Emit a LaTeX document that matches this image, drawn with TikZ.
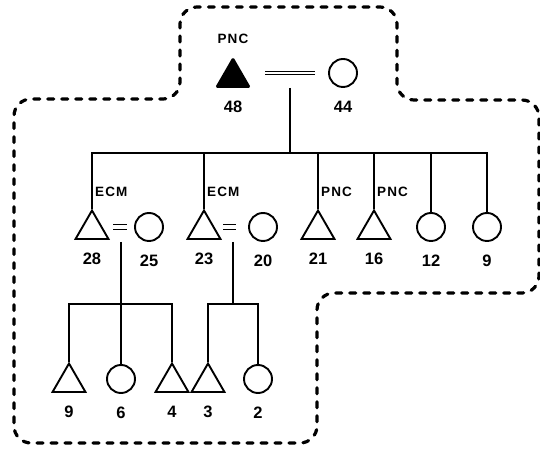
\documentclass[tikz,border=0pt]{standalone}
\usepackage{fontspec}
\setmainfont{Liberation Sans}
\usetikzlibrary{positioning,calc,shapes.geometric}
\tikzset{
	male/.style={regular polygon,regular polygon sides=3,draw=black,line width=1.9pt,
		minimum size=38pt,inner sep=0pt},
	female/.style={circle,draw=black,line width=1.9pt,minimum size=28pt,inner sep=0pt},
	kin/.style={draw=black,line width=1.3pt},
	tie/.style={draw=black,line width=1.3pt,double distance=#1},
	tag/.style={font=\bfseries\fontsize{13.5}{15}\selectfont\addfontfeature{LetterSpace=8},inner sep=0pt},
	num/.style={font=\bfseries\fontsize{16.5}{18}\selectfont,inner sep=0pt,yshift=-13pt},
	border/.style={draw=black,line width=3.2pt,line cap=round,dash pattern=on 6pt off 8pt,
		rounded corners=17pt},
}
\begin{document}
\begin{tikzpicture}[x=1pt,y=1pt]
	\useasboundingbox (0,0) rectangle (540,449);
	% the dashed outline
	\draw[border] (290,442) -- (397,442) -- (397,349) -- (539,349) -- (539,156) -- (317,156)
		-- (317,6) -- (14,6) -- (14,350) -- (180,350) -- (180,442) -- cycle;
	% ego and wife
	\node[male,fill=black,rounded corners=1pt,label={[num]below:48},
		label={[tag,yshift=13pt]above:PNC}] (t48) at (233,371.5) {};
	\node[female,label={[num]below:44}] (c44) at (343,376) {};
	\draw[tie=1.8pt,shorten <=32pt,shorten >=28pt] (t48 |- c44) -- (c44.center);
	% children
	\node[male,label={[num]below:28}] (t28) at (92,219.5) {};
	\node[female,label={[num]below:25}] (c25) at (149,222) {};
	\node[male,label={[num]below:23}] (t23) at (204,219.5) {};
	\node[female,label={[num]below:20}] (c20) at (263,222) {};
	\node[male,label={[num]below:21}] (t21) at (318,219.5) {};
	\node[male,label={[num]below:16}] (t16) at (374,219.5) {};
	\node[female,label={[num]below:12}] (c12) at (431,222) {};
	\node[female,label={[num]below:9}] (c9) at (487,222) {};
	\draw[tie=3.5pt,shorten <=21pt,shorten >=22pt] (t28 |- c25) -- (c25.center);
	\draw[tie=3.5pt,shorten <=19pt,shorten >=27pt] (t23 |- c20) -- (c20.center);
	\node[tag,anchor=west] (e28) at ($(t28.corner 1)+(3,17)$) {ECM};
	\node[tag,anchor=west] (e23) at ($(t23.corner 1)+(3,17)$) {ECM};
	\node[tag,anchor=west] (p21) at ($(t21.corner 1)+(3,17)$) {PNC};
	\node[tag,anchor=west] (p16) at ($(t16.corner 1)+(3,17)$) {PNC};
	% grandchildren
	\node[male,label={[num]below:9}] (t9) at (69,66.5) {};
	\node[female,label={[num]below:6}] (c6) at (121,70) {};
	\node[male,label={[num]below:4}] (t4) at (172,66.5) {};
	\node[male,label={[num]below:3}] (t3) at (208,66.5) {};
	\node[female,label={[num]below:2}] (c2) at (258,70) {};
	% descent lines
	\coordinate (j0) at (290,361);
	\coordinate (b0) at (0,296);
	\draw[kin] (j0) -- (j0 |- b0);
	\draw[kin] (t28.corner 1) -- (t28.corner 1 |- b0) -- (c9.north |- b0) -- (c9.north);
	\foreach \n in {t23.corner 1,t21.corner 1,t16.corner 1,c12.north}
		\draw[kin] (\n) -- (\n |- b0);
	\coordinate (j1) at (121,207);
	\coordinate (j2) at (233,207);
	\coordinate (b1) at (0,145);
	\draw[kin] (j1) -- (c6.north);
	\draw[kin] (t9.corner 1) -- (t9.corner 1 |- b1) -- (t4.corner 1 |- b1) -- (t4.corner 1);
	\draw[kin] (j2) -- (j2 |- b1);
	\draw[kin] (t3.corner 1) -- (t3.corner 1 |- b1) -- (c2.north |- b1) -- (c2.north);
\end{tikzpicture}
\end{document}
